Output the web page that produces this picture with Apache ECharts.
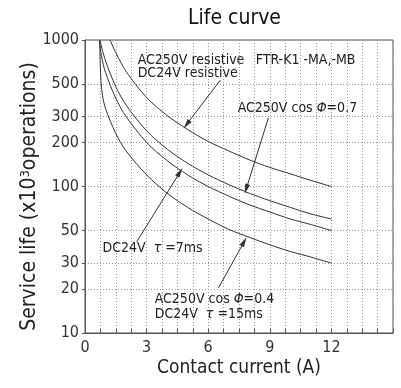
<!DOCTYPE html>
<html><head><meta charset="utf-8">
<script src="https://cdn.jsdelivr.net/npm/echarts@6/dist/echarts.min.js"></script>
<style>html,body{margin:0;padding:0;background:#fff}#c{width:401px;height:388px}</style>
</head><body><div id="c"></div>
<script>
const FONT = '"Liberation Sans Narrow","DejaVu Sans Condensed","Roboto",sans-serif';

const titleText = 'Life curve';
const xName = 'Contact current (A)';
const xLabelValues = [0, 3, 6, 9, 12];
const yTickValues = [10, 20, 30, 50, 100, 200, 300, 500, 1000];

// AC250V resistive / DC24V resistive
const curveA = [[1.22,1000],[1.5,820],[2,610],[3,405],[4,305],[5,245],[6,203],[7,175],[8,152],[9,135],[10,122],[11,110],[12,100]];
// AC250V cos phi = 0.7
const curveB = [[0.72,1000],[1,720],[1.5,480],[2,360],[3,240],[4,180],[5,144],[6,120],[7,103],[8,90],[9,80],[10,72],[11,65],[12,60]];
// DC24V tau = 7ms
const curveC = [[0.7,1000],[0.8,780],[1,600],[1.5,400],[2,300],[3,200],[4,150],[5,120],[6,100],[7,86],[8,75],[9,67],[10,60],[11,55],[12,50]];
// AC250V cos phi = 0.4 / DC24V tau = 15ms
const curveD = [[0.72,1000],[0.74,700],[0.78,520],[0.85,420],[1,340],[1.5,230],[2,175],[3,120],[4,90],[5,72],[6,60],[7,51],[8,45],[9,40],[10,36],[11,33],[12,30]];

// arrows: [start, tip]
const arrows = [
  [[6.59,533],[4.95,265]],
  [[8.93,294],[7.85,96]],
  [[2.52,42],[4.62,125]],
  [[6.50,20.3],[7.75,42]]
];

// notes: anchor (left, middle)
const notes = [
  {coord:[2.54,730], text:'AC250V resistive'},
  {coord:[2.54,595], text:'DC24V resistive'},
  {coord:[8.29,730], text:'FTR-K1 -MA,-MB'},
  {coord:[7.41,343], text:'AC250V cos {i|Φ}=0.7'},
  {coord:[0.83,38],  text:'DC24V  {i|τ} =7ms'},
  {coord:[3.37,17],  text:'AC250V cos {i|Φ}=0.4'},
  {coord:[3.37,13.3],text:'DC24V  {i|τ} =15ms'}
];

const chart = echarts.init(document.getElementById('c'), null, {renderer:'canvas'});
const lineColor = '#333';
function lineSeries(data){
  return {type:'line', data:data, showSymbol:false, smooth:0.3,
    lineStyle:{color:lineColor, width:1}, itemStyle:{color:lineColor}, silent:true, animation:false};
}
const s0 = lineSeries(curveA);
s0.markLine = {
  silent:true, animation:false,
  symbol:['none','path://M0,0 L3,12 L-3,12 Z'], symbolSize:10, symbolKeepAspect:true,
  label:{show:false},
  lineStyle:{color:'#333', width:1, type:'solid'},
  itemStyle:{color:'#333'},
  data: arrows.map(a => [{coord:a[0]},{coord:a[1]}])
};
s0.markPoint = {
  silent:true, animation:false,
  symbol:'circle', symbolSize:1,
  itemStyle:{color:'rgba(0,0,0,0)'},
  label:{show:true, position:'right', distance:0, color:'#222', fontSize:14, fontFamily:FONT,
    rich:{i:{fontStyle:'italic', fontSize:14, fontFamily:FONT, color:'#222'}}},
  data: notes.map(n => ({coord:n.coord, value:0, label:{formatter:n.text}}))
};

chart.setOption({
  animation:false,
  backgroundColor:'#fff',
  title:{text:titleText, left:183, top:3,
    textStyle:{fontSize:21, fontWeight:'normal', color:'#111', fontFamily:FONT}},
  grid:{left:85, right:8, top:40, bottom:55, show:true, borderColor:'#555', borderWidth:1},
  xAxis:{type:'value', min:0, max:15, interval:0.75,
    name:xName, nameLocation:'middle', nameGap:26, nameMoveOverlap:false,
    nameTextStyle:{fontSize:19, color:'#222', fontFamily:FONT},
    axisLine:{show:true, lineStyle:{color:'#555'}},
    axisTick:{show:true, inside:true, length:4, lineStyle:{color:'#555'}},
    axisLabel:{formatter:v => xLabelValues.indexOf(Math.round(v*100)/100) >= 0 ? String(Math.round(v)) : '',
      fontSize:16, color:'#333', margin:7, fontFamily:FONT},
    splitLine:{show:true, lineStyle:{type:[1,2], color:'#999', width:1}}
  },
  yAxis:{type:'log', logBase:10, min:10, max:1000,
    name:'{a|Service life (x10}{s|3}{a|operations)}', nameLocation:'middle', nameGap:45, nameMoveOverlap:false,
    nameTextStyle:{fontSize:21, color:'#222', fontFamily:FONT, padding:[0,20,0,0],
      rich:{a:{fontSize:21, color:'#222', fontFamily:FONT}, s:{fontSize:13, color:'#222', fontFamily:FONT, verticalAlign:'top'}}},
    axisLine:{show:true, lineStyle:{color:'#555'}},
    axisTick:{show:true, inside:false, length:3, customValues:yTickValues, lineStyle:{color:'#555'}},
    axisLabel:{customValues:yTickValues, formatter:v => String(Math.round(v)), fontSize:16, color:'#333', margin:6, fontFamily:FONT},
    splitLine:{show:true, lineStyle:{type:[1,2], color:'#999', width:1}},
    minorTick:{show:false}, minorSplitLine:{show:false}
  },
  series:[s0, lineSeries(curveB), lineSeries(curveC), lineSeries(curveD)]
});
</script>
</body></html>
